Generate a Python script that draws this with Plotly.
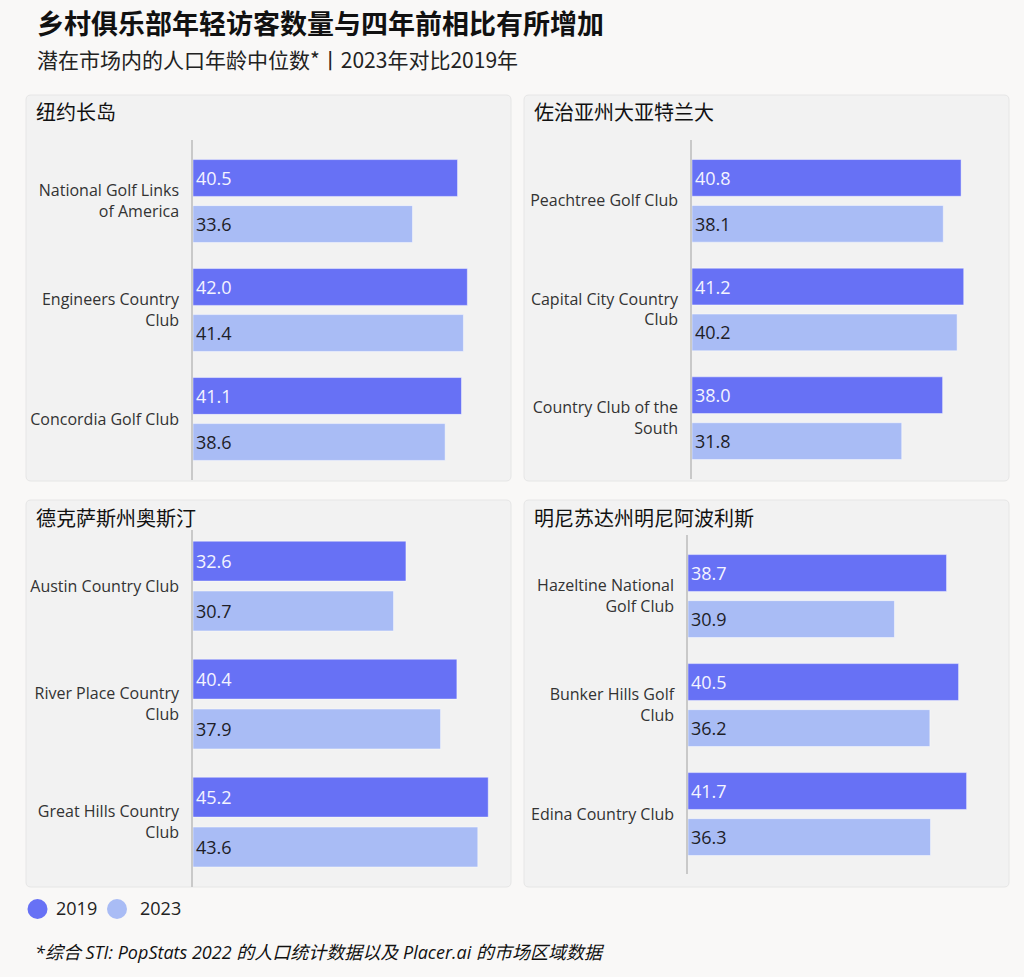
import plotly.graph_objects as go

W, H = 1024, 977

# ---- data ----
regions = ["纽约长岛", "佐治亚州大亚特兰大", "德克萨斯州奥斯汀", "明尼苏达州明尼阿波利斯"]

clubs_ny = ["National Golf Links<br>of America", "Engineers Country<br>Club", "Concordia Golf Club"]
age2019_ny = [40.5, 42.0, 41.1]
age2023_ny = [33.6, 41.4, 38.6]

clubs_atl = ["Peachtree Golf Club", "Capital City Country<br>Club", "Country Club of the<br>South"]
age2019_atl = [40.8, 41.2, 38.0]
age2023_atl = [38.1, 40.2, 31.8]

clubs_aus = ["Austin Country Club", "River Place Country<br>Club", "Great Hills Country<br>Club"]
age2019_aus = [32.6, 40.4, 45.2]
age2023_aus = [30.7, 37.9, 43.6]

clubs_msp = ["Hazeltine National<br>Golf Club", "Bunker Hills Golf<br>Club", "Edina Country Club"]
age2019_msp = [38.7, 40.5, 41.7]
age2023_msp = [30.9, 36.2, 36.3]

years = ["2019", "2023"]

title = "<b>乡村俱乐部年轻访客数量与四年前相比有所增加</b>"
subtitle = "潜在市场内的人口年龄中位数*丨2023年对比2019年"
footnote = "<i>*综合 STI: PopStats 2022 的人口统计数据以及 Placer.ai 的市场区域数据</i>"

# ---- style ----
C2019 = "#6771f5"
C2023 = "#a9bcf5"
BG = "#f9f8f7"
PANEL = "#f2f2f2"
FONT = "Open Sans, Noto Sans CJK SC, sans-serif"
CJK = "Noto Sans CJK SC, sans-serif"


def px_x(v):
    return v / W


def px_y(v):
    return 1 - v / H


# panel box (px), plot x-domain (px), plot y-domain (px), x max, y range
panels = [
    dict(box=(26, 95, 511, 481), xd=(193, 500), yd=(140, 480), xmax=47.0, yr=(2.56, -0.56)),
    dict(box=(524, 95, 1009, 481), xd=(692, 1000), yd=(140, 479), xmax=46.7, yr=(2.56, -0.56)),
    dict(box=(26, 500, 511, 887), xd=(193, 500), yd=(530, 887), xmax=47.0, yr=(2.55, -0.475)),
    dict(box=(524, 500, 1009, 887), xd=(688, 1000), yd=(535, 874), xmax=46.7, yr=(2.55, -0.56)),
]

series = [
    (clubs_ny, age2019_ny, age2023_ny),
    (clubs_atl, age2019_atl, age2023_atl),
    (clubs_aus, age2019_aus, age2023_aus),
    (clubs_msp, age2019_msp, age2023_msp),
]

fig = go.Figure()
shapes = []
annotations = []


def rounded_rect(x0, y0, x1, y1, r=5):
    rx, ry = r / W, r / H
    a, b, c, d = px_x(x0), px_y(y0), px_x(x1), px_y(y1)
    return (
        f"M {a + rx},{b} L {c - rx},{b} Q {c},{b} {c},{b - ry} "
        f"L {c},{d + ry} Q {c},{d} {c - rx},{d} "
        f"L {a + rx},{d} Q {a},{d} {a},{d + ry} "
        f"L {a},{b - ry} Q {a},{b} {a + rx},{b} Z"
    )


for i, (p, (clubs, v19, v23)) in enumerate(zip(panels, series)):
    n = "" if i == 0 else str(i + 1)
    xa, ya = "x" + n, "y" + n
    for yr, vals, col, tcol in [
        (years[0], v19, C2019, "#f4f4ff"),
        (years[1], v23, C2023, "#1e1e28"),
    ]:
        fig.add_trace(go.Bar(
            y=clubs, x=vals, orientation="h", name=yr,
            xaxis=xa, yaxis=ya, showlegend=False,
            marker=dict(color=col, line=dict(color="rgba(255,255,255,0.45)", width=1)),
            texttemplate="%{x:.1f}", textposition="inside", insidetextanchor="start",
            insidetextfont=dict(color=tcol, size=18, family=FONT),
            cliponaxis=False, hoverinfo="skip",
        ))
    fig.update_layout(**{
        "xaxis" + n: dict(domain=[px_x(p["xd"][0]), px_x(p["xd"][1])], range=[0, p["xmax"]],
                          visible=False, anchor=ya, fixedrange=True),
        "yaxis" + n: dict(domain=[px_y(p["yd"][1]), px_y(p["yd"][0])], range=list(p["yr"]),
                          type="category", anchor=xa, showline=True, linecolor="#c9c9c9",
                          linewidth=1.5, showgrid=False, zeroline=False, ticks="",
                          ticklabelstandoff=9, automargin=False, fixedrange=True,
                          tickfont=dict(size=16, color="#333333", family=FONT)),
    })
    x0, y0, x1, y1 = p["box"]
    shapes.append(dict(type="path", xref="paper", yref="paper", path=rounded_rect(x0, y0, x1, y1),
                       fillcolor=PANEL, line=dict(color="#e6e6e6", width=1), layer="below"))
    annotations.append(dict(text=regions[i], xref="paper", yref="paper", x=px_x(x0 + 8), y=px_y(y0 + 17),
                            xanchor="left", yanchor="middle", showarrow=False,
                            font=dict(size=20, color="#111111", family=CJK)))

# legend drawn by hand (circles + labels)
for cx, label, col, tx in [(37.5, years[0], C2019, 54), (117, years[1], C2023, 138)]:
    shapes.append(dict(type="circle", xref="paper", yref="paper",
                       x0=px_x(cx - 10), x1=px_x(cx + 10), y0=px_y(909 + 10), y1=px_y(909 - 10),
                       fillcolor=col, line=dict(width=0)))
    annotations.append(dict(text=label, xref="paper", yref="paper", x=px_x(tx), y=px_y(908),
                            xanchor="left", yanchor="middle", showarrow=False,
                            font=dict(size=18, color="#222222", family=FONT)))

annotations += [
    dict(text=title, xref="paper", yref="paper", x=px_x(35), y=px_y(23), xanchor="left", yanchor="middle",
         showarrow=False, font=dict(size=27, color="#111111", family=CJK)),
    dict(text=subtitle, xref="paper", yref="paper", x=px_x(35), y=px_y(59), xanchor="left", yanchor="middle",
         showarrow=False, font=dict(size=21, color="#222222", family=CJK)),
    dict(text=footnote, xref="paper", yref="paper", x=px_x(33), y=px_y(952), xanchor="left", yanchor="middle",
         showarrow=False, font=dict(size=18, color="#111111", family=FONT)),
]

fig.update_layout(
    width=W, height=H, autosize=False,
    margin=dict(l=0, r=0, t=0, b=0),
    paper_bgcolor=BG, plot_bgcolor="rgba(0,0,0,0)",
    barmode="group", bargap=0.155, bargroupgap=0.2,
    font=dict(family=FONT),
    shapes=shapes, annotations=annotations,
    showlegend=False,
)

# page body has a default 8px margin; drop it so the figure fills the window
fig.write_html(
    "out.html",
    config={"displayModeBar": False},
    post_script="document.body.style.margin='0';document.body.style.background='%s';" % BG,
)
